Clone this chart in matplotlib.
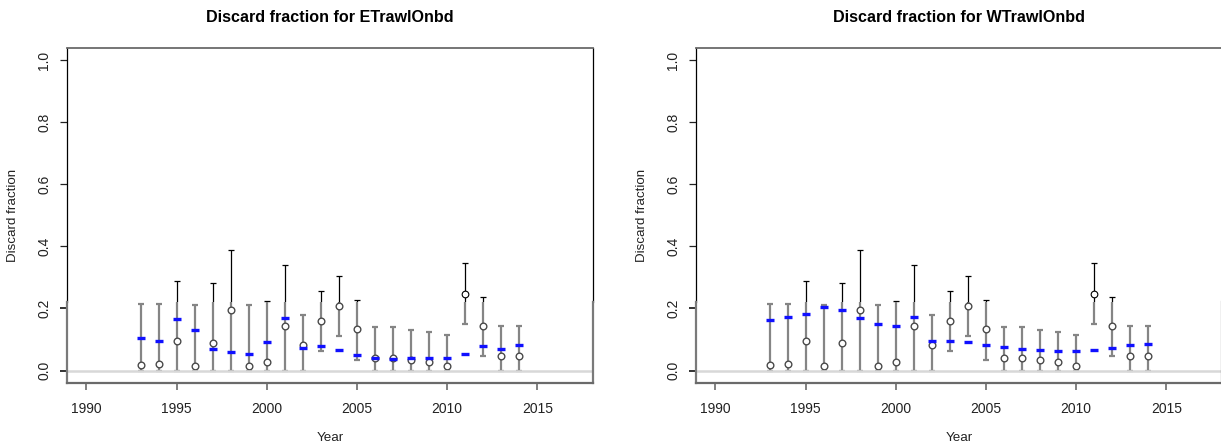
import matplotlib
matplotlib.use("Agg")
import matplotlib.pyplot as plt
from matplotlib.patches import Rectangle

plt.rcParams["font.family"] = ["Liberation Sans", "DejaVu Sans"]

# Observed discard fractions with their intervals (shared by both fleets)
years = list(range(1993, 2015))
obs = [0.018, 0.020, 0.095, 0.014, 0.088, 0.195, 0.015, 0.027, 0.145, 0.082, 0.160,
       0.209, 0.133, 0.040, 0.041, 0.034, 0.027, 0.015, 0.248, 0.143, 0.047, 0.048]
upper = [0.213, 0.216, 0.290, 0.210, 0.282, 0.389, 0.211, 0.223, 0.341, 0.180, 0.256,
         0.304, 0.227, 0.139, 0.140, 0.131, 0.124, 0.113, 0.345, 0.237, 0.144, 0.145]
lower = [0.0, 0.0, 0.0, 0.0, 0.0, 0.0, 0.0, 0.0, 0.0, 0.0, 0.062,
         0.110, 0.035, 0.0, 0.0, 0.0, 0.0, 0.0, 0.151, 0.046, 0.0, 0.0]

# Expected discard fractions by fleet
exp_east = [0.104, 0.094, 0.165, 0.132, 0.069, 0.059, 0.052, 0.093, 0.168, 0.073, 0.080,
            0.067, 0.049, 0.040, 0.036, 0.042, 0.039, 0.040, 0.055, 0.080, 0.070, 0.082]
exp_west = [0.164, 0.171, 0.182, 0.206, 0.195, 0.169, 0.150, 0.145, 0.172, 0.094, 0.096,
            0.092, 0.084, 0.077, 0.068, 0.065, 0.064, 0.064, 0.066, 0.072, 0.081, 0.085]

fleets = ["ETrawlOnbd", "WTrawlOnbd"]
expected = [exp_east, exp_west]
x_ticks = [1990, 1995, 2000, 2005, 2010, 2015]
y_ticks = [0.0, 0.2, 0.4, 0.6, 0.8, 1.0]

W, H = 1221, 448
fig = plt.figure(figsize=(W / 100, H / 100), dpi=100)

SPLIT = 0.221          # below this level the plot is rendered in softened grey
YLIM = (-0.04, 1.04)
XLIM = (1990 - 1.08, 2017 + 1.08)


def draw_obs(ax, clip, line_col, lw, mk_col, mk_lw):
    arts = []
    arts.append(ax.vlines(years, lower, upper, colors=line_col, linewidths=lw, zorder=3))
    arts += ax.plot(years, upper, "_", ms=4, mew=lw, color=line_col, zorder=3)
    arts += ax.plot(years, lower, "_", ms=4, mew=lw, color=line_col, zorder=3)
    arts += ax.plot(years, obs, "o", ms=4.8, mfc="white", mec=mk_col, mew=mk_lw, zorder=4)
    for a in arts:
        a.set_clip_path(clip)


for i, (fleet, exp) in enumerate(zip(fleets, expected)):
    left_px = 67 + i * 629
    ax = fig.add_axes([left_px / W, (H - 383) / H, 526 / W, (383 - 47.7) / H])
    ax.set_xlim(*XLIM)
    ax.set_ylim(*YLIM)
    for s in ax.spines.values():
        s.set_visible(False)

    ytr = ax.get_yaxis_transform()
    upper_clip = Rectangle((-0.01, SPLIT), 1.02, 2, transform=ytr)
    lower_clip = Rectangle((-0.01, -1), 1.02, 1 + SPLIT, transform=ytr)

    draw_obs(ax, upper_clip, "black", 0.9, "black", 0.8)
    draw_obs(ax, lower_clip, "#858585", 1.6, "#4a4a4a", 1.0)
    ax.axhline(0, color="#d8d8d8", lw=1.8, zorder=4.5)

    ax.plot(years, exp, "_", ms=6, mew=2.4, color="#1010ff", zorder=5)

    # frame: crisp black upper part, softened grey lower part
    for xa in (0, 1):
        ax.plot([xa, xa], [SPLIT, YLIM[1]], transform=ytr, color="black",
                lw=0.9, clip_on=False, zorder=6)
        ax.plot([xa, xa], [YLIM[0], SPLIT], transform=ytr, color="#7a7a7a",
                lw=1.6, clip_on=False, zorder=6)
    ax.plot([0, 1], [YLIM[1], YLIM[1]], transform=ytr, color="#6a6a6a",
            lw=1.3, clip_on=False, zorder=6)
    ax.plot([0, 1], [YLIM[0], YLIM[0]], transform=ytr, color="#6a6a6a",
            lw=1.6, clip_on=False, zorder=6)

    ax.set_xticks(x_ticks)
    ax.set_xticklabels([str(v) for v in x_ticks])
    ax.set_yticks(y_ticks)
    ax.set_yticklabels([f"{v:.1f}" for v in y_ticks])
    ax.tick_params(axis="both", length=5.2, width=0.9, labelsize=10,
                   colors="#222222")
    ax.tick_params(axis="x", pad=8.5, color="#777777", width=1.3)
    ax.tick_params(axis="y", pad=6.0, labelrotation=90)
    for lab in ax.get_yticklabels():
        lab.set_va("center")
    for t, v in zip(ax.yaxis.get_major_ticks(), y_ticks):
        if v < SPLIT:
            t.tick1line.set_color("#777777")
            t.tick1line.set_markeredgewidth(1.3)
        else:
            t.tick1line.set_color("black")

    cx = (left_px + 263) / W
    fig.text(cx, 1 - 17 / H, f"Discard fraction for {fleet}", ha="center",
             va="center", fontsize=11.6, fontweight="bold")
    fig.text(cx, 1 - 438 / H, "Year", ha="center", va="center", fontsize=9.6,
             color="#222222")
    fig.text((left_px - 54) / W, 1 - 215 / H, "Discard fraction", ha="center",
             va="center", rotation=90, fontsize=9.6, color="#222222")

fig.savefig("out.png", dpi=100)
